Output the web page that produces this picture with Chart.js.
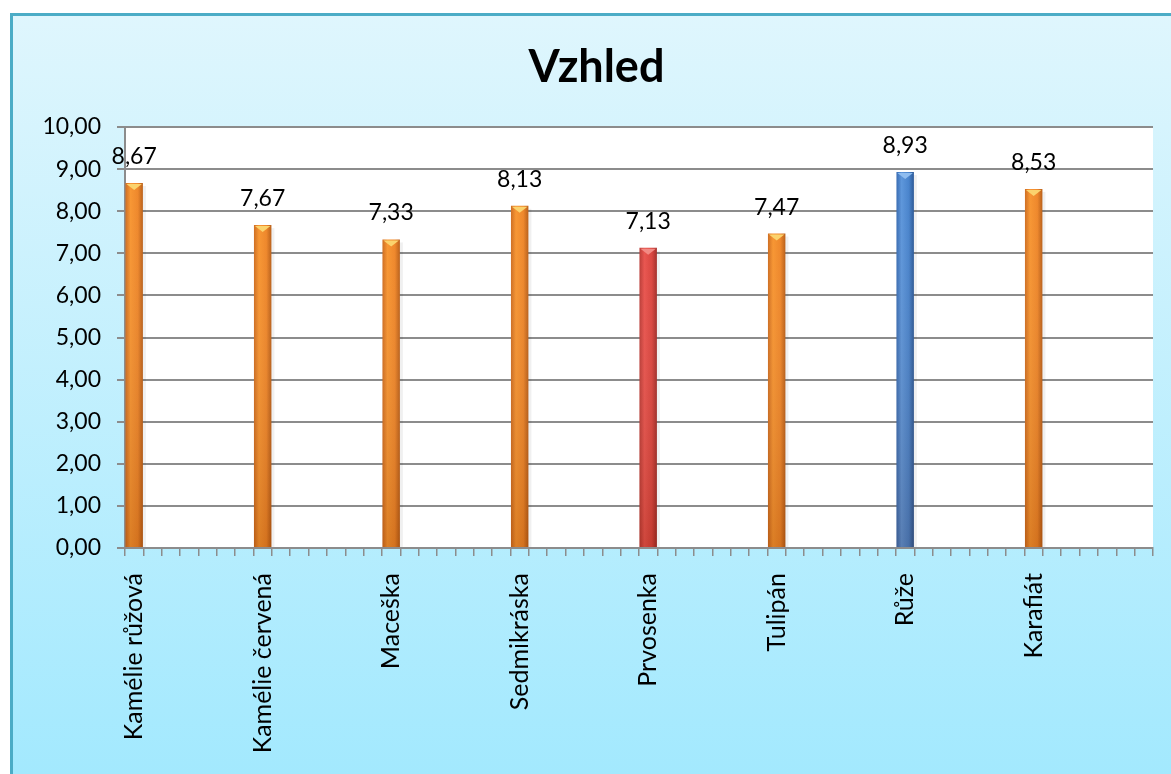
<!DOCTYPE html>
<html><head><meta charset="utf-8">
<script src="https://cdn.jsdelivr.net/npm/chart.js@4.4.0/dist/chart.umd.min.js"></script>
<style>html,body{margin:0;padding:0;background:#fff;overflow:hidden}</style>
</head><body>
<canvas id="c" width="1171" height="774" style="width:1171px;height:774px;display:block"></canvas>
<script>
const flowers = ['Kamélie růžová','Kamélie červená','Maceška','Sedmikráska','Prvosenka','Tulipán','Růže','Karafiát'];
const values = [8.67, 7.67, 7.33, 8.13, 7.13, 7.47, 8.93, 8.53];
const yMin = 0, yMax = 10, yStep = 1;
const slotsPerFlower = 7; // each flower is followed by empty category slots

const labels = [], data = [];
flowers.forEach((f, i) => {
  labels.push(f); data.push(values[i]);
  for (let k = 1; k < slotsPerFlower; k++) { labels.push(''); data.push(null); }
});

const fmt = v => Number(v).toFixed(2).replace('.', ',');
const FONT = 'Lato, "Open Sans", sans-serif';

const maxV = Math.max(...values), minV = Math.min(...values);
const palette = {
  orange: ['#c9661a', '#f7932d', '#ee8425', '#b25812'],
  red:    ['#b53530', '#e8504a', '#d8403a', '#9a2622'],
  blue:   ['#2f64ad', '#5893da', '#4380cb', '#23508e']
};
function kindFor(v) { return v === maxV ? 'blue' : (v === minV ? 'red' : 'orange'); }

const bgPlugin = {
  id: 'bg',
  beforeDraw(chart) {
    const c = chart.ctx, W = chart.width, H = chart.height;
    c.save();
    c.fillStyle = '#fff'; c.fillRect(0, 0, W, H);
    const g = c.createLinearGradient(0, 13, 0, H);
    g.addColorStop(0, '#dff6fd'); g.addColorStop(1, '#a3e9fe');
    c.fillStyle = g; c.fillRect(10, 13, W - 10, H - 13);
    c.strokeStyle = '#4bacc6'; c.lineWidth = 3;
    c.beginPath(); c.moveTo(11.5, H + 5); c.lineTo(11.5, 14.5); c.lineTo(W + 5, 14.5); c.stroke();
    const a = chart.chartArea;
    c.fillStyle = '#ffffff'; c.fillRect(a.left, a.top, a.right - a.left, a.bottom - a.top);
    c.restore();
  }
};

const barDeco = {
  id: 'barDeco',
  afterDatasetsDraw(chart) {
    const c = chart.ctx, meta = chart.getDatasetMeta(0);
    c.save();
    meta.data.forEach((el, i) => {
      const v = data[i];
      if (v == null) return;
      const w = el.width, x0 = el.x - w / 2, top = el.y, bot = el.base;
      const g = c.createLinearGradient(0, top, 0, bot);
      g.addColorStop(0, 'rgba(255,255,255,0.03)');
      g.addColorStop(1, 'rgba(90,30,0,0.18)');
      c.fillStyle = g; c.fillRect(x0, top, w, bot - top);
      const k = kindFor(v);
      c.fillStyle = k === 'orange' ? '#fbd36d' : (k === 'red' ? '#f28a84' : '#8fbdf0');
      c.beginPath(); c.moveTo(x0 + 1, top + 1); c.lineTo(x0 + w - 1, top + 1); c.lineTo(el.x, top + 7); c.closePath(); c.fill();
      c.fillStyle = 'rgba(0,0,0,0.06)';
      c.fillRect(x0 + w, top + 3, 3, bot - top - 3);
      c.fillStyle = '#000'; c.font = '23px ' + FONT; c.textAlign = 'center'; c.textBaseline = 'alphabetic';
      c.fillText(fmt(v), el.x, top - 19);
    });
    c.restore();
  }
};

new Chart(document.getElementById('c'), {
  type: 'bar',
  data: {
    labels: labels,
    datasets: [{
      data: data,
      barPercentage: 0.95,
      categoryPercentage: 1,
      borderWidth: 0,
      backgroundColor(ctx) {
        const chart = ctx.chart, v = ctx.raw;
        if (v == null || !chart.chartArea || !chart.scales.x) return '#f08a2c';
        const p = palette[kindFor(v)];
        const xs = chart.scales.x, cx = xs.getPixelForValue(ctx.dataIndex);
        const w = (xs.right - xs.left) / labels.length;
        const g = chart.ctx.createLinearGradient(cx - w / 2, 0, cx + w / 2, 0);
        g.addColorStop(0, p[0]); g.addColorStop(0.3, p[1]); g.addColorStop(0.7, p[2]); g.addColorStop(1, p[3]);
        return g;
      }
    }]
  },
  options: {
    responsive: false,
    animation: false,
    devicePixelRatio: 1,
    layout: { padding: { left: 40, right: 18, top: 0, bottom: 0 } },
    plugins: {
      legend: { display: false },
      tooltip: { enabled: false },
      title: {
        display: true, text: 'Vzhled', color: '#000',
        font: { family: FONT, size: 45, weight: 'bold', lineHeight: 1.2 },
        padding: { top: 40, bottom: 33 }
      }
    },
    scales: {
      x: {
        offset: true,
        afterFit(s) { s.height = 226; s.paddingLeft = 0; s.paddingRight = 0; },
        grid: { offset: true, drawOnChartArea: false, drawTicks: true, tickLength: 8, color: '#8c8c8c', lineWidth: 1.5 },
        border: { display: true, color: '#8c8c8c', width: 2 },
        ticks: {
          autoSkip: false, minRotation: 90, maxRotation: 90, padding: 17,
          color: '#000', font: { family: FONT, size: 25 }
        }
      },
      y: {
        min: yMin, max: yMax,
        afterFit(s) { s.width = 85; s.paddingTop = 0; s.paddingBottom = 0; },
        grid: { color: '#8c8c8c', lineWidth: 2, tickLength: 8 },
        border: { display: true, color: '#8c8c8c', width: 2 },
        ticks: {
          stepSize: yStep, padding: 16, color: '#000',
          font: { family: FONT, size: 23 },
          callback: v => fmt(v)
        }
      }
    }
  },
  plugins: [bgPlugin, barDeco]
});
</script>
</body></html>
